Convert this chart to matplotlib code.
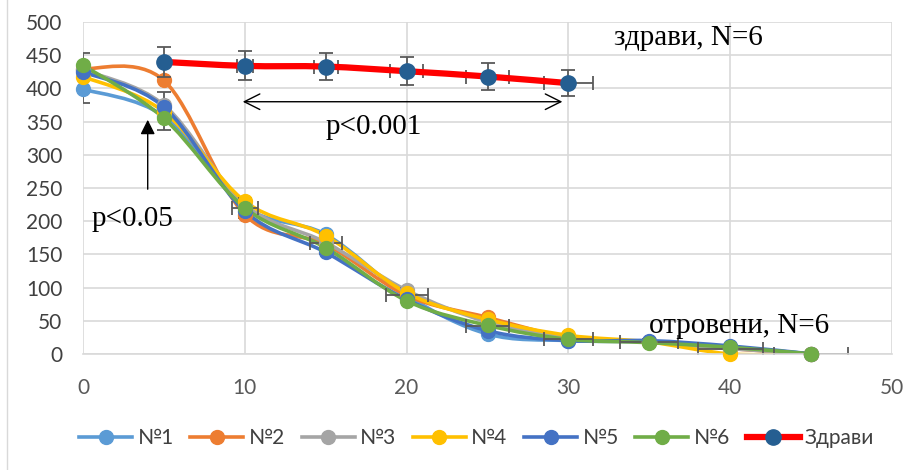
import numpy as np
import matplotlib.pyplot as plt
from matplotlib.path import Path
from matplotlib.patches import PathPatch
from matplotlib.lines import Line2D

# time points
t = [0, 5, 10, 15, 20, 25, 30, 35, 40, 45]
t_h = [5, 10, 15, 20, 25, 30]

# poisoned animals
n1 = [399, 358, 222, 180, 88, 30, 20, 18, 10, 0]
n2 = [430, 412, 210, 165, 88, 55, 25, 18, 8, 0]
n3 = [428, 375, 225, 168, 96, 48, 25, 18, 8, 0]
n4 = [418, 365, 230, 178, 92, 52, 28, 18, 0, 0]
n5 = [425, 372, 215, 153, 82, 35, 20, 20, 12, 0]
n6 = [435, 355, 220, 160, 80, 43, 22, 17, 10, 0]
pois_mean = [416, 366, 220, 167, 89, 42, 23, 18, 7, 0]
pois_yerr = [38, 28, 15, 17, 10, 13, 6, 4, 6, 0]
pois_xerr = [0, 0, 0.8, 1.0, 1.3, 1.3, 1.5, 1.8, 2.0, 2.3]

# healthy
zdravi = [440, 434, 433, 426, 418, 408]
zdravi_yerr = [22, 22, 21, 21, 21, 20]
zdravi_xerr = [0, 0.5, 0.75, 1.0, 1.3, 1.5]

labels = ['№1', '№2', '№3', '№4', '№5', '№6', 'Здрави']
colors = ['#5B9BD5', '#ED7D31', '#A5A5A5', '#FFC000', '#4472C4', '#70AD47']


def smooth_path(x, y):
    # excel-like smoothed line (catmull-rom as bezier)
    p = np.column_stack([x, y]).astype(float)
    n = len(p)
    verts = [p[0]]
    codes = [Path.MOVETO]
    for i in range(n - 1):
        p0 = p[i - 1] if i > 0 else p[i]
        p3 = p[i + 2] if i + 2 < n else p[i + 1]
        c1 = p[i] + (p[i + 1] - p0) / 6
        c2 = p[i + 1] - (p3 - p[i]) / 6
        verts += [c1, c2, p[i + 1]]
        codes += [Path.CURVE4] * 3
    return Path(verts, codes)


fig = plt.figure(figsize=(9.08, 4.70), dpi=100)
ax = fig.add_axes([0.0914, 0.247, 0.891, 0.706])

# outer chart border (left)
fig.add_artist(Line2D([0.008, 0.008], [0.0, 1.0], color='#D9D9D9', lw=1))

ax.set_xlim(0, 50)
ax.set_ylim(0, 500)
ax.set_xticks(range(0, 51, 10))
ax.set_yticks(range(0, 501, 50))
ax.grid(True, color='#D9D9D9', lw=1.2)
ax.set_axisbelow(True)
for s in ['top', 'right', 'left']:
    ax.spines[s].set_visible(False)
ax.spines['bottom'].set_color('#D9D9D9')
ax.spines['bottom'].set_linewidth(1.2)
ax.tick_params(length=0, labelsize=15, labelcolor='#404040')
ax.tick_params(axis='x', pad=17, labelcolor='#595959')
ax.tick_params(axis='y', pad=15)
for lab in ax.get_xticklabels() + ax.get_yticklabels():
    lab.set_family('Lato')

# error bars for poisoned group
ax.errorbar(t, pois_mean, yerr=pois_yerr, xerr=pois_xerr, fmt='none',
            ecolor='#595959', elinewidth=1.3, capsize=5, capthick=1.3, zorder=2.5)

series = [n1, n2, n3, n4, n5, n6]
handles = []
for vals, c, lab in zip(series, colors, labels):
    ax.add_patch(PathPatch(smooth_path(t, vals), facecolor='none', edgecolor=c,
                           lw=2.6, zorder=2, capstyle='round'))
    ax.plot(t, vals, 'o', color=c, ms=10, zorder=3, clip_on=False)
    handles.append(Line2D([], [], color=c, lw=2.6, marker='o', ms=10, label=lab))

# healthy group
ax.errorbar(t_h, zdravi, yerr=zdravi_yerr, xerr=zdravi_xerr, fmt='none',
            ecolor='#595959', elinewidth=1.3, capsize=5, capthick=1.3, zorder=3.5)
ax.add_patch(PathPatch(smooth_path(t_h, zdravi), facecolor='none', edgecolor='#FF0000',
                       lw=4.5, zorder=4))
ax.plot(t_h, zdravi, 'o', color='#255E91', ms=11, zorder=5)
handles.append(Line2D([], [], color='#FF0000', lw=4.5, marker='o', ms=11,
                      markerfacecolor='#255E91', markeredgecolor='#255E91', label=labels[6]))

# annotations
serif = 'Liberation Serif'
ax.annotate('', xy=(4.0, 357), xytext=(4.0, 244),
            arrowprops=dict(arrowstyle='-|>', color='black', lw=1, mutation_scale=22), zorder=6)
ax.text(0.55, 203, 'p<0.05', family=serif, fontsize=21, ha='left', va='center')
ax.annotate('', xy=(9.7, 380), xytext=(29.8, 380),
            arrowprops=dict(arrowstyle='<->', color='black', lw=1, mutation_scale=28), zorder=6)
ax.text(18.0, 342, 'p<0.001', family=serif, fontsize=21, ha='center', va='center')
ax.text(32.8, 476, 'здрави, N=6', family=serif, fontsize=21, ha='left', va='center')
ax.text(35.0, 42, 'отровени, N=6', family=serif, fontsize=21, ha='left', va='center')

leg = fig.legend(handles=handles, loc='center', bbox_to_anchor=(0.525, 0.068), ncol=7,
                 frameon=False, handlelength=2.55, columnspacing=0.8,
                 handletextpad=0.25, prop={'family': 'Lato', 'size': 15})
for txt in leg.get_texts():
    txt.set_color('#404040')

fig.savefig('out.png', dpi=100)
